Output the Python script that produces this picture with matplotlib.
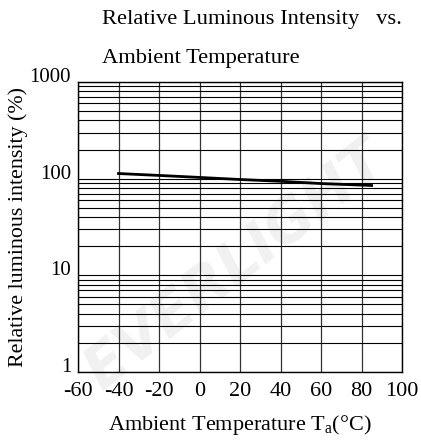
import numpy as np
import matplotlib.pyplot as plt
from matplotlib.ticker import FixedLocator, NullFormatter

plt.rcParams['font.family'] = ['Liberation Serif', 'DejaVu Serif']
plt.rcParams['mathtext.fontset'] = 'custom'
plt.rcParams['mathtext.rm'] = 'Liberation Serif'

# 数据：环境温度 vs 相对发光强度
temperature = [-40, -20, 0, 20, 40, 60, 85]
intensity = [113, 108, 103, 98, 94, 89, 85]

x_ticks = [-60, -40, -20, 0, 20, 40, 60, 80, 100]
y_ticks = [1, 10, 100, 1000]
y_tick_labels = ["1", "10", "100", "1000"]

fig = plt.figure(figsize=(4.21, 4.43), dpi=100)

# 背景水印（浅灰），完全放在画布内
fig.text(0.56, 0.40, "EVERLIGHT", rotation=38, fontsize=42, fontweight="bold",
         color="#f1f1f1", ha="center", va="center", zorder=-5,
         family="DejaVu Sans", style="italic")

ax = fig.add_axes([0.1853, 0.1603, 0.7696, 0.6546])
ax.set_zorder(1)
ax.patch.set_alpha(0)
ax.set_yscale("log")
ax.set_xlim(-60, 100)
ax.set_ylim(1, 1000)

ax.set_xticks(x_ticks)
ax.set_xticklabels([str(t) for t in x_ticks])
ax.set_yticks(y_ticks)
ax.set_yticklabels(y_tick_labels, va="baseline")
minor = [m * 10 ** d for d in range(0, 3) for m in range(2, 10)]
ax.yaxis.set_minor_locator(FixedLocator(minor))
ax.yaxis.set_minor_formatter(NullFormatter())

ax.tick_params(which="both", length=0)
ax.tick_params(axis="x", pad=7, labelsize=16)
ax.tick_params(axis="y", pad=5, labelsize=15)

ax.grid(True, which="major", axis="x", color="#333333", linewidth=0.9)
ax.grid(True, which="both", axis="y", color="black", linewidth=0.8)
for s in ax.spines.values():
    s.set_linewidth(1.0)
    s.set_color("black")

ax.plot(temperature, intensity, color="black", linewidth=2.0, zorder=3)

ax.set_ylabel("Relative luminous intensity (%)", fontsize=15.8)
ax.yaxis.set_label_coords(-0.155, 0.5)
ax.set_xlabel(r"Ambient Temperature T$_\mathrm{a}$(°C)", fontsize=16, labelpad=9)

fig.text(0.243, 0.955, "Relative Luminous Intensity   vs.", fontsize=16.2,
         ha="left", va="center")
fig.text(0.243, 0.869, "Ambient Temperature", fontsize=16.2, ha="left", va="center")

plt.savefig("out.png", dpi=100)
